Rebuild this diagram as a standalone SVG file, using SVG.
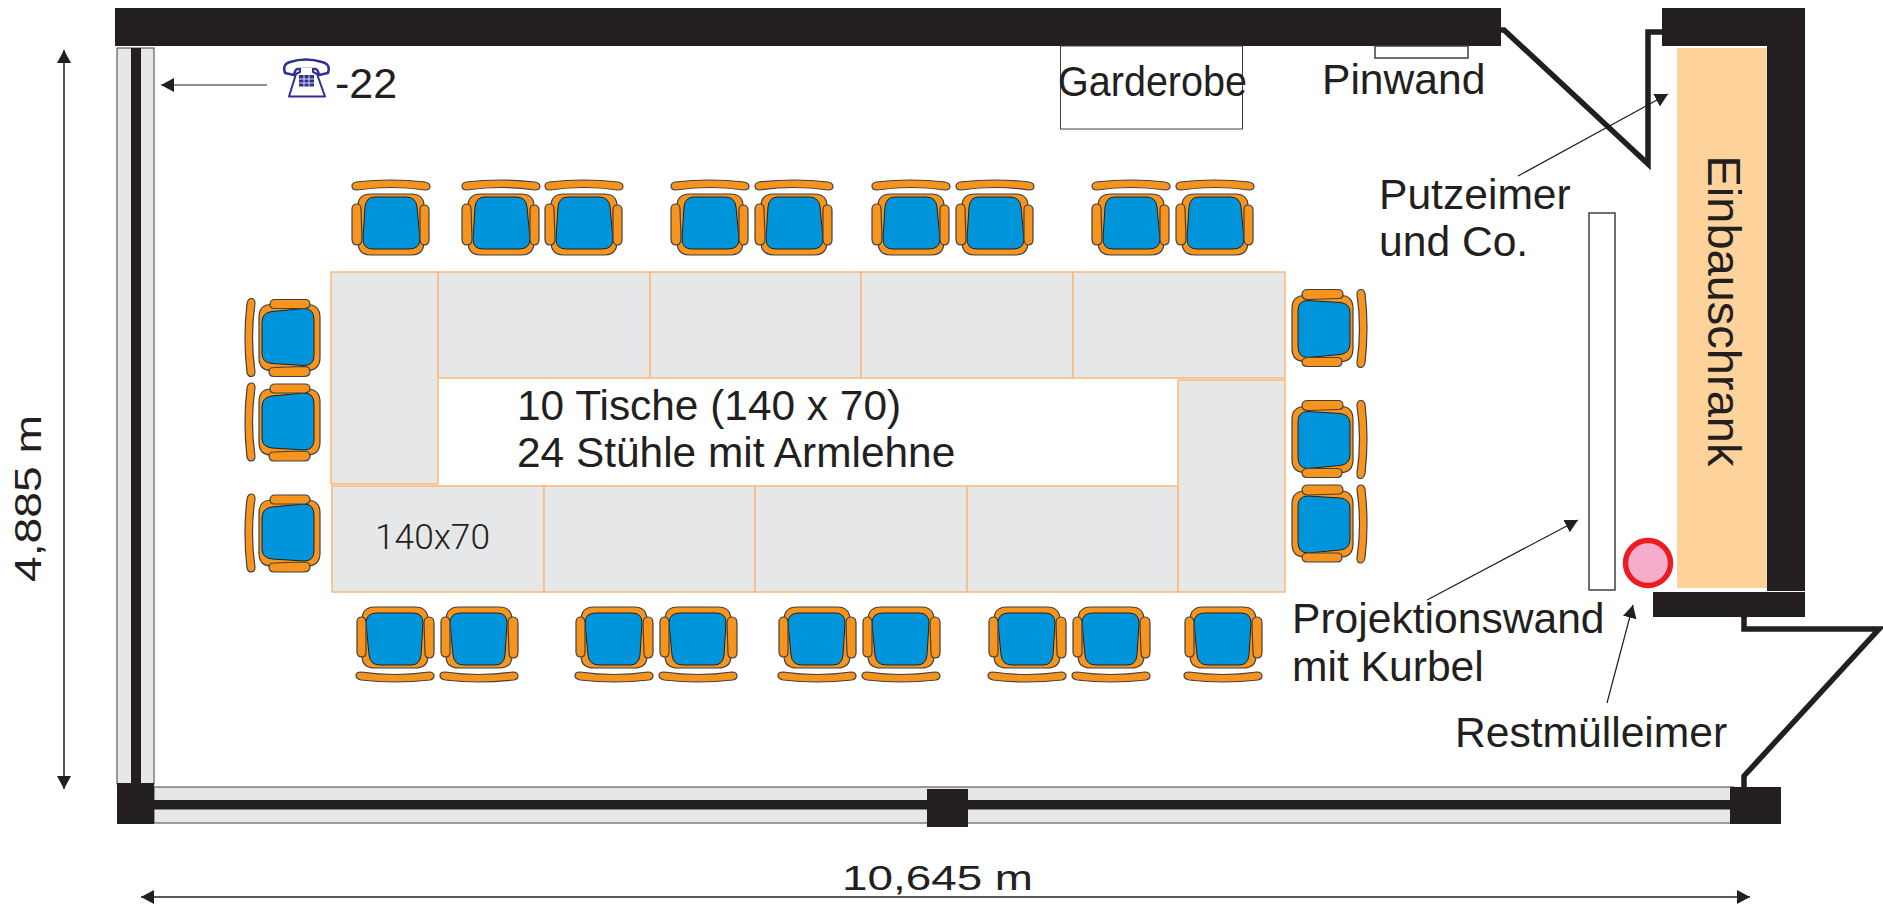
<svg xmlns="http://www.w3.org/2000/svg" xmlns:xlink="http://www.w3.org/1999/xlink" width="1883" height="904" viewBox="0 0 1883 904">
<style>
.k{fill:#231f20}
.g{fill:#e6e7e8}
.t{fill:#e6e7e8;stroke:#fbb875;stroke-width:1.5}
.o{fill:#f7941d;stroke:#414042;stroke-width:1.2}
.b{fill:#0095da;stroke:#231f20;stroke-width:1}
.box{fill:#fff;stroke:#414042;stroke-width:1.5}
.door{fill:none;stroke:#231f20;stroke-width:5.5;stroke-linejoin:miter;stroke-miterlimit:12}
.arr{fill:none;stroke:#231f20;stroke-width:1.2;marker-end:url(#ah)}
.arr2{fill:none;stroke:#231f20;stroke-width:1.5;marker-start:url(#ahs);marker-end:url(#ah)}
text{font-family:"Liberation Sans",Arial,sans-serif;font-size:42.6px;fill:#231f20}
</style>
<defs>
<marker id="ah" markerUnits="userSpaceOnUse" markerWidth="14" markerHeight="16" refX="13" refY="7" orient="auto"><path d="M0 0L13 7L0 14Z" fill="#231f20"/></marker>
<marker id="ahs" markerUnits="userSpaceOnUse" markerWidth="14" markerHeight="16" refX="0" refY="7" orient="auto"><path d="M13 0L0 7L13 14Z" fill="#231f20"/></marker>
<g id="chair">
<path class="o" d="M-35-36Q0-40 34-36Q39-35 39-31.500Q39-28 34-28Q0-33-34-28Q-39-28-39-32Q-39-35-35-36Z"/>
<path class="o" d="M-20-24H20Q33-24 33-12V24Q33 37 20 37H-20Q-33 37-33 24V-12Q-33-24-20-24Z"/>
<path class="b" d="M-16-21H15Q25-21 26-11L29 21Q29 31 18 31H-18Q-28 31-28 21L-26-11Q-25-21-16-21Z"/>
<path class="o" d="M-39-9Q-39-14-34-14Q-30-14-30-9L-29 21Q-29 27-34 27Q-39 27-39 21Z"/>
<path class="o" d="M29-8Q29-13 33-13Q38-13 38-8V22Q38 27 33 27Q30 27 29 22Z"/>
</g>
</defs>
<rect width="1883" height="904" fill="#fff"/>

<g id="walls">
<rect class="k" x="115" y="8" width="1386" height="38"/>
<rect class="k" x="1662" y="8" width="143" height="38"/>
<rect class="k" x="1767" y="46" width="38" height="545"/>
<rect class="k" x="1653" y="592" width="152" height="25"/>
</g>
<g id="window-left">
<rect class="g" x="117" y="48" width="37" height="736" stroke="#414042" stroke-width="1"/>
<rect class="k" x="131" y="48" width="10" height="736"/>
</g>
<g id="window-bottom">
<rect class="g" x="154" y="787" width="1580" height="36" stroke="#414042" stroke-width="1"/>
<rect class="k" x="154" y="800" width="1580" height="9.500"/>
<rect class="k" x="117" y="783" width="37" height="41"/>
<rect class="k" x="927" y="789" width="41" height="38"/>
<rect class="k" x="1730" y="787" width="51" height="37"/>
</g>

<g id="closet">
<rect x="1677" y="48" width="90" height="540" fill="#fdd29b"/>
<text transform="translate(1708 155.500) rotate(90)" style="font-size:47px">Einbauschrank</text>
</g>
<g id="bin"><circle cx="1648" cy="563" r="22.500" fill="#f5adcb" stroke="#ed1c24" stroke-width="5.500"/></g>
<g id="screen"><rect class="box" x="1589" y="213" width="26" height="377"/></g>
<g id="garderobe">
<rect x="1060.500" y="46" width="182" height="83" fill="#fff" stroke="#414042" stroke-width="1"/>
<text x="1058" y="96" textLength="189" lengthAdjust="spacingAndGlyphs">Garderobe</text>
</g>
<g id="pinwand">
<rect class="box" x="1375" y="46" width="93" height="12"/>
<text x="1322" y="94">Pinwand</text>
</g>

<g id="tables">
<rect class="t" x="438" y="272" width="212" height="106"/>
<rect class="t" x="650" y="272" width="211" height="106"/>
<rect class="t" x="861" y="272" width="212" height="106"/>
<rect class="t" x="1073" y="272" width="212" height="106"/>
<rect class="t" x="331" y="272" width="107" height="212"/>
<rect class="t" x="332" y="486" width="212" height="106"/>
<rect class="t" x="544" y="486" width="211" height="106"/>
<rect class="t" x="755" y="486" width="212" height="106"/>
<rect class="t" x="967" y="486" width="211" height="106"/>
<rect class="t" x="1178" y="380" width="107" height="212"/>
<text x="375" y="549" textLength="115" lengthAdjust="spacingAndGlyphs" style="font-family:'Roboto',sans-serif;font-weight:300;font-size:35px">140x70</text>
</g>
<g id="chairs">
<use id="c1" href="#chair" transform="translate(391 218)"/>
<use id="c2" href="#chair" transform="translate(501 218)"/>
<use id="c3" href="#chair" transform="translate(584 218)"/>
<use id="c4" href="#chair" transform="translate(710 218)"/>
<use id="c5" href="#chair" transform="translate(794 218)"/>
<use id="c6" href="#chair" transform="translate(911 218)"/>
<use id="c7" href="#chair" transform="translate(995 218)"/>
<use id="c8" href="#chair" transform="translate(1131 218)"/>
<use id="c9" href="#chair" transform="translate(1215 218)"/>
<use id="c10" href="#chair" transform="translate(395 644) rotate(180)"/>
<use id="c11" href="#chair" transform="translate(479 644) rotate(180)"/>
<use id="c12" href="#chair" transform="translate(614 644) rotate(180)"/>
<use id="c13" href="#chair" transform="translate(698 644) rotate(180)"/>
<use id="c14" href="#chair" transform="translate(817 644) rotate(180)"/>
<use id="c15" href="#chair" transform="translate(901 644) rotate(180)"/>
<use id="c16" href="#chair" transform="translate(1027 644) rotate(180)"/>
<use id="c17" href="#chair" transform="translate(1111 644) rotate(180)"/>
<use id="c18" href="#chair" transform="translate(1223 644) rotate(180)"/>
<use id="c19" href="#chair" transform="translate(283 337.500) rotate(-90)"/>
<use id="c20" href="#chair" transform="translate(283 422) rotate(-90)"/>
<use id="c21" href="#chair" transform="translate(283 533) rotate(-90)"/>
<use id="c22" href="#chair" transform="translate(1329 328.500) rotate(90)"/>
<use id="c23" href="#chair" transform="translate(1329 439.500) rotate(90)"/>
<use id="c24" href="#chair" transform="translate(1329 524) rotate(90)"/>
</g>

<g id="connectors">
<path class="door" d="M1501 30H1504L1648 164V32H1662"/>
<path class="door" d="M1744 617V629H1879L1744 776V787"/>
<path class="arr" d="M267 85H161"/>
<path class="arr" d="M1518 176L1668 94"/>
<path class="arr" d="M1427 600L1578 520"/>
<path class="arr" d="M1607 703L1633 605"/>
<path class="arr2" d="M64 50V789"/>
<path class="arr2" d="M141 897H1750"/>
</g>

<g id="phone">
<path d="M285 73Q282 64 290 62Q306 57 322 62Q331 64 328 73L319 75Q318 70 316 69H297Q295 70 294 75Z" fill="#fff" stroke="#2e3192" stroke-width="2.500" stroke-linejoin="round"/>
<path d="M300 68V72L296 74L289 96.500H325L317 74L313 72V68" fill="#fff" stroke="#2e3192" stroke-width="2" stroke-linejoin="round"/>
<rect x="299" y="75" width="15" height="11.500" fill="#2e3192"/>
<path d="M304 75V86.500M309 75V86.500M299 79H314M299 83H314" stroke="#fff" stroke-width="0.800" fill="none"/>
</g>
<g id="labels">
<text x="335" y="98" style="font-size:43px">-22</text>
<text x="1379" y="209">Putzeimer</text>
<text x="1379" y="256">und Co.</text>
<text x="1292" y="633">Projektionswand</text>
<text x="1292" y="681">mit Kurbel</text>
<text x="1455" y="747">Restmülleimer</text>
<text x="517" y="420" style="font-size:42.4px">10 Tische (140 x 70)</text>
<text x="517" y="467" style="font-size:42.4px">24 Stühle mit Armlehne</text>
<text x="842" y="890" textLength="191" lengthAdjust="spacingAndGlyphs" style="font-size:35px">10,645 m</text>
<text transform="translate(41 582) rotate(-90)" textLength="167" lengthAdjust="spacingAndGlyphs" style="font-size:36px">4,885 m</text>
</g>
</svg>
